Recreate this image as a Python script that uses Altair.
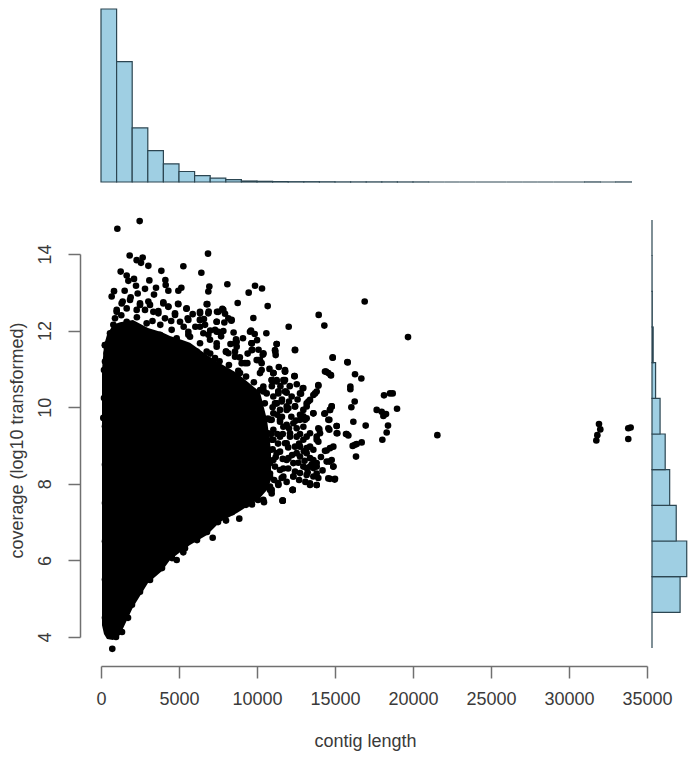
import altair as alt
import pandas as pd

# Dense body of the scatter: contig length, upper and lower coverage
body_x = [64, 192, 385, 769, 1218, 2051, 3013, 3910, 4423, 5256, 5705, 6795, 7628, 8718, 9551, 10192, 10641, 10897]
body_hi = [10.97, 11.62, 11.89, 12.15, 12.22, 12.28, 12.07, 11.96, 11.86, 11.75, 11.68, 11.36, 11.15, 10.89, 10.61, 10.40, 9.67, 8.88]
body_lo = [4.31, 4.08, 3.95, 3.92, 4.05, 4.78, 5.41, 5.72, 6.01, 6.27, 6.40, 6.66, 7.00, 7.24, 7.45, 7.63, 7.84, 8.10]

# Individually readable contigs
pts = [
    (1047,14.66),(2479,14.86),(6860,14.01),(1838,13.96),(2671,13.91),(2287,13.84),(2565,13.77),(3035,13.69),
    (5279,13.68),(1261,13.54),(3868,13.56),(6433,13.51),(1646,13.44),(2116,13.35),(1753,13.30),(3099,13.31),
    (4125,13.32),(8099,13.21),(9873,13.17),(9467,12.99),(10322,13.10),(4146,13.19),(6945,13.15),(5150,13.12),
    (6881,13.02),(2244,13.17),(3526,13.12),(2821,13.09),(1517,13.04),(834,13.03),(684,12.89),(2351,12.97),
    (3398,12.94),(4317,13.04),(4958,13.04),(8762,12.72),(10685,12.64),(6775,12.69),(3996,12.74),(4937,12.70),
    (5471,12.57),(1902,12.87),(1389,12.76),(2501,12.67),(3142,12.67),(4317,12.63),(9766,12.33),(12032,12.10),
    (8356,12.26),(7779,12.57),(7437,12.49),(7950,12.44),(5877,12.43),(6347,12.45),(6903,12.50),(1005,12.54),
    (3676,12.51),(9617,12.00),(9852,11.91),(10600,11.93),(8655,11.77),(11262,11.65),(9659,11.67),(11177,11.45),
    (4744,12.45),(5556,12.32),(6347,12.28),(7907,12.21),(7416,12.23),(7843,11.99),(7416,11.97),(6048,12.10),
    (6668,12.15),(5599,11.89),(6881,11.89),(7416,11.67),(8698,11.58),(9702,11.50),(10365,11.37),(8014,11.45),
    (8591,11.32),(9232,11.15),(10194,11.23),(11049,10.89),(11796,10.93),(11796,10.71),(10942,10.71),
    (364,11.63),(257,10.97),(364,11.24),(299,10.41),(299,10.19),(256,11.62),(192,10.97),(192,10.24),(150,9.72),
    (10407,10.45),(11369,10.41),(11903,10.38),(11155,10.10),(11903,10.02),
    (16903,12.76),(13954,12.41),(14317,12.13),(19681,11.83),(12436,11.50),(14851,11.30),(15813,11.17),(14360,10.93),
    (14573,10.89),(14744,10.83),(12415,10.81),(16283,10.86),(16689,10.75),(13932,10.56),(15984,10.54),(15984,10.47),
    (13719,10.36),(12928,10.49),(12821,10.35),(18527,10.36),(18142,10.31),(18698,10.36),(16262,10.15),(14787,10.02),
    (14680,9.93),(16048,10.00),(17672,9.93),(17993,9.88),(18271,9.82),(18100,9.77),(18976,9.96),(14317,9.83),
    (13291,10.15),(13184,10.02),(13612,9.84),(12971,9.76),(14638,9.67),(16176,9.62),(16967,9.52),(18399,9.52),
    (15108,9.51),(14638,9.41),(15150,9.32),(18313,9.34),(13996,9.42),(15749,9.30),(15856,9.26),(18035,9.15),
    (16283,9.02),(16710,9.08),(16390,9.04),(16134,8.99),(14680,8.93),(14360,8.86),(16347,8.71),(13826,9.15),
    (13398,9.32),(12757,9.67),(12330,9.58),(11902,9.93),(12436,10.02),(11475,9.67),(11689,9.49),(12116,9.32),
    (12543,9.23),(12971,9.15),(13184,8.93),(12543,8.80),(13612,8.62),(14638,8.58),(14894,8.45),(13826,8.45),
    (13184,8.41),(12757,8.28),(12330,8.19),(13612,8.19),(14680,8.13),(14979,8.11),(13398,7.97),(13826,7.97),
    (11582,8.15),(11368,7.97),(12287,7.84),(11646,7.56),(10941,7.84),(11902,8.62),(11261,8.80),(11475,9.23),
    (11582,10.15),(11261,10.10),(11047,9.84),(11047,9.15),(11902,9.06),(12757,8.97),(13612,8.89),(13398,8.45),
    (12330,8.54),(11047,8.62),(11475,8.36),(14039,9.32),(12971,9.49),(13184,8.80),(10620,8.80),(10834,8.27),
    (10727,9.32),(10941,9.67),(10620,10.36),(10406,10.54),(10299,10.97),(10086,11.23),(10406,11.41),(9658,11.67),
    (8697,11.71),(9552,11.97),(8376,12.28),(7842,12.54),(11047,10.89),(11795,10.93),(11005,10.67),(11368,10.36),
    (11795,10.41),(11261,10.71),(11689,10.71),
    (7160,6.59),(8865,7.09),(8013,7.04),(11647,7.56),(12288,7.84),(10448,7.52),(9679,7.46),(5275,6.21),(11346,8.02),
    (724,3.69),(4852,6.01),
    (21560,9.27),(31922,9.56),(32006,9.42),(31816,9.27),(31752,9.13),(33800,9.45),(33950,9.47),(33800,9.17),
]
# Upper fringe of the dense cloud
pts_upper = [
    (1325,12.71),(1859,12.80),(2500,12.71),(3035,12.76),(1005,12.49),(898,12.32),(1646,12.58),(2287,12.54),
    (2821,12.54),(3355,12.49),(3996,12.71),(4317,12.62),(4958,12.69),(5492,12.58),(3676,12.45),(4744,12.41),
    (4103,12.32),(5065,12.23),(6347,12.49),(6817,12.69),(6881,12.45),(7522,12.49),(5599,12.28),(6347,12.28),
    (7416,12.23),(8164,12.32),(7309,12.02),(7522,11.97),(5599,11.97),(6347,12.10),(6561,11.93),(5706,11.84),
    (4530,12.02),(2928,12.19),(1646,12.23),(791,12.15),(577,11.93),(577,11.67),(257,11.62),(363,11.41),
    (257,11.19),(257,10.97),(4851,11.80),(3783,11.89),(6988,11.76),(7416,11.58),(6347,11.67),(8164,11.41),
    (6774,11.45),(7309,11.28),(6133,11.45),(5278,11.58),
    (7000,11.4),(7600,11.2),(8200,11.1),(8800,10.95),(9300,10.8),(9800,10.65),(10200,10.45),(10500,10.1),
    (10700,9.7),(10900,9.3),(11000,8.9),
    (9400,11.4),(10100,11.5),(8900,11.3),(8300,11.65),(7700,11.85),(8500,11.95),(9100,11.8),(10000,11.75),
    (7000,12.0),(6600,12.3),(5300,12.1),(4500,12.25),(3300,12.25),(2300,12.35),(1300,12.4),(3800,12.15),
]
# Right fringe of the dense cloud
pts_right = [
    (8590,11.67),(9658,11.67),(11261,11.65),(12436,11.49),(8013,11.45),(8590,11.45),(9658,11.49),(10406,11.39),
    (11154,11.49),(11197,11.36),(9017,11.15),(9380,11.15),(9979,11.23),(10299,11.15),(14851,11.29),(15791,11.18),
    (11795,10.97),(14424,10.93),(14723,10.84),(11047,10.89),(12394,10.81),(8910,10.89),(10192,10.89),(13932,10.58),
    (10940,10.71),(11261,10.67),(11731,10.67),(12970,10.50),(12757,10.36),(11368,10.41),(11838,10.41),(10406,10.41),
    (11047,10.28),(12223,10.28),(13825,10.41),(13612,10.32),(13398,10.19),(13184,10.10),(11261,10.10),(11475,9.93),
    (12009,9.97),(12436,10.02),(12970,9.93),(12757,9.80),(14787,10.02),(14680,9.93),(13612,9.84),(13184,9.71),
    (14360,9.84),(10834,9.67),(11475,9.62),(11902,9.54),(12543,9.45),(13077,9.67),(14573,9.67),(14573,9.45),
    (15108,9.51),(15108,9.32),(15706,9.30),(13932,9.45),(13825,9.23),(13184,9.23),(12757,9.30),(11047,9.41),
    (10940,9.15),(12116,9.23),(11795,9.06),(12436,8.97),(13398,8.97),(13932,9.10),(14894,8.97),(14466,8.87),
    (10834,8.88),(11475,8.84),(12009,8.67),(12757,8.71),(13398,8.67),(13825,8.54),(14466,8.58),(14787,8.62),
    (14894,8.45),(12970,8.45),(13612,8.41),(13825,8.27),(12436,8.32),(11688,8.40),(10834,8.54),(11688,8.19),
    (10834,8.19),(12329,8.19),(13184,8.23),(13932,8.15),(13398,8.01),(13825,7.97),(14573,8.14),(15000,8.13),
    (11368,7.99),(12287,7.84),(11646,7.56),(10834,7.93),(10406,7.58),(10940,7.75),(9658,7.49),
    (11000,10.0),(11300,9.8),(11600,9.75),(12200,9.75),(12500,9.65),(12050,9.45),(11300,9.3),(11650,9.3),
    (11350,9.05),(12000,8.95),(12700,9.05),(13000,8.85),(11200,8.7),(11650,8.65),(12250,8.75),(13050,8.6),
    (13500,8.5),(14100,8.7),(11150,8.45),(12000,8.4),(12650,8.55),(13250,8.3),(14200,8.35),(11100,8.1),
    (11900,8.05),(12700,8.1),(13100,8.05),(12050,10.15),(12600,10.2),(11600,10.2),(10950,10.55),(11500,10.55),
    (12100,10.55),(12550,10.6),(10800,11.0),(11400,11.05),
]
# Lower and left edge of the dense cloud
pts_edge = [
    (1731,4.50),(1987,4.84),(2500,5.18),(3141,5.49),(3910,5.80),(4551,6.06),(5384,6.32),(6154,6.53),(6795,6.74),
    (7500,7.00),(8397,7.26),(9295,7.45),(10064,7.58),(10833,7.84),(962,4.00),(1346,4.13),
    (256,4.5),(256,5.5),(256,6.5),(256,7.5),(256,8.5),(256,9.5),
]

# Histogram of contig length (1000-wide bins, 0 to 34000)
top_counts = [176, 122.5, 55, 32, 18.5, 10.7, 6.5, 4, 2.4, 1, 0.7, 0.4, 0.3, 0.3, 0.2,
              0.1, 0.1, 0.1, 0.1, 0.05, 0.05, 0, 0, 0, 0, 0, 0, 0, 0, 0, 0, 0.05, 0, 0.05]
# Histogram of coverage (unit bins, 3 to 15)
right_counts = [0, 31.3, 38.7, 27, 19.7, 14.7, 9, 4, 1.3, 0.3, 0.1, 0]

BLUE = "#9fcfe3"
EDGE = "#2c4652"
AXIS = "#707070"
TEXT = "#3a3a3a"
FONT = "Liberation Sans"

body = pd.DataFrame({"x": body_x, "hi": body_hi, "lo": body_lo})
scatter = pd.DataFrame(pts + pts_upper + pts_right + pts_edge, columns=["x", "y"])
top = pd.DataFrame({"a": [i * 1000 for i in range(34)],
                    "b": [(i + 1) * 1000 for i in range(34)],
                    "n": top_counts, "z": [0] * 34})
right = pd.DataFrame({"a": [3 + i for i in range(12)],
                      "b": [4 + i for i in range(12)],
                      "n": right_counts, "z": [0] * 12})

x_scale = alt.Scale(domain=[0, 35000], nice=False, zero=False)
y_scale = alt.Scale(domain=[4, 14], nice=False, zero=False)

x_axis = alt.Axis(title="contig length", values=list(range(0, 35001, 5000)), format="d", offset=29,
                  grid=False, tickSize=12, tickWidth=1.5, domainWidth=1.5, tickColor=AXIS, domainColor=AXIS,
                  labelColor=TEXT, titleColor=TEXT, labelFontSize=18, titleFontSize=18, labelFont=FONT, titleFont=FONT,
                  titleFontWeight="normal", labelPadding=12, titlePadding=24, labelOverlap=False, titleX=264,
                  labelFlush=False)
y_axis = alt.Axis(title="coverage (log10 transformed)", values=[4, 6, 8, 10, 12, 14], offset=21,
                  grid=False, tickSize=12, tickWidth=1.5, domainWidth=1.5, tickColor=AXIS, domainColor=AXIS,
                  labelColor=TEXT, titleColor=TEXT, labelFontSize=18, titleFontSize=18, labelFont=FONT, titleFont=FONT,
                  titleFontWeight="normal", labelAngle=-90, labelPadding=14, titlePadding=10, labelOverlap=False,
                  titleY=186)

area = alt.Chart(body).mark_area(color="black", opacity=1, clip=False).encode(
    x=alt.X("x:Q", scale=x_scale, axis=x_axis),
    y=alt.Y("hi:Q", scale=y_scale, axis=y_axis),
    y2="lo:Q",
)
dots = alt.Chart(scatter).mark_circle(color="black", opacity=1, size=44).encode(
    x=alt.X("x:Q", scale=x_scale, axis=None),
    y=alt.Y("y:Q", scale=y_scale, axis=None),
)
top_hist = alt.Chart(top).mark_rect(fill=BLUE, stroke=EDGE, strokeWidth=1.2).encode(
    x=alt.X("a:Q", scale=x_scale, axis=None),
    x2="b:Q",
    y=alt.Y("n:Q", scale=alt.Scale(domain=[0, 176], range=[-72, -245], nice=False), axis=None),
    y2="z:Q",
)
right_hist = alt.Chart(right).mark_rect(fill=BLUE, stroke=EDGE, strokeWidth=1.2).encode(
    y=alt.Y("a:Q", scale=alt.Scale(domain=[3, 15], range=[394, -34], nice=False, zero=False), axis=None),
    y2="b:Q",
    x=alt.X("n:Q", scale=alt.Scale(domain=[0, 39], range=[551, 586], nice=False), axis=None),
    x2="z:Q",
)

chart = (
    alt.layer(area, dots, top_hist, right_hist)
    .resolve_scale(x="independent", y="independent")
    .properties(
        width=546, height=383,
        autosize=alt.AutoSizeParams(type="none"),
        padding={"left": 93, "top": 246, "right": 41, "bottom": 114},
    )
    .configure_view(stroke=None)
)
chart.save("out.html", embed_options={"renderer": "svg", "actions": False})
